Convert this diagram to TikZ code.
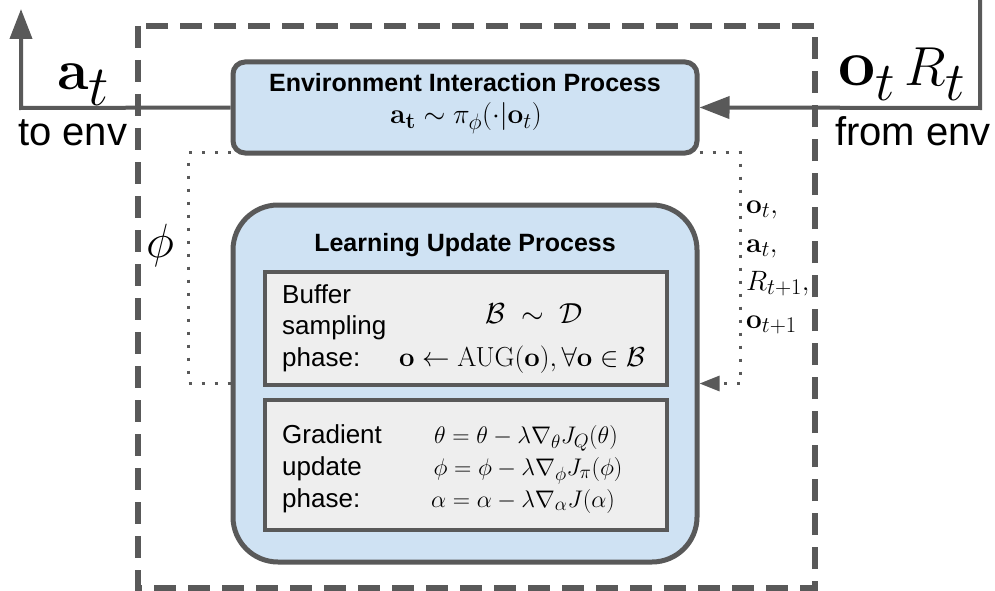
\RequirePackage{fix-cm}
\documentclass[tikz,border=0pt]{standalone}
\usepackage[no-math]{fontspec}
\setmainfont{Liberation Sans}
\renewcommand{\defaultscriptratio}{.8}
\usetikzlibrary{arrows.meta,calc}
\definecolor{lc}{HTML}{595959}
\definecolor{bluefill}{HTML}{CFE2F3}
\definecolor{grayfill}{HTML}{EEEEEE}
\newcommand{\fsz}[1]{\fontsize{#1}{#1}\selectfont}
\tikzset{
  conn/.style={draw=lc, line width=4pt},
  bigtip/.style={-{Triangle[length=30pt,width=22pt]}},
  dotline/.style={draw=lc, line width=3pt, dash pattern=on 3pt off 10pt},
  smalltip/.style={-{Triangle[length=20pt,width=15pt]}},
  procbox/.style={draw=lc, line width=5pt, fill=bluefill},
  phasebox/.style={draw=lc, line width=3.3pt, fill=grayfill, minimum width=402pt},
  outerbox/.style={draw=lc, line width=5.5pt, dash pattern=on 22pt off 12pt},
}
\begin{document}
\begin{tikzpicture}[x=1pt,y=-1pt]
\useasboundingbox (0,0) rectangle (995,591);
% outer dashed frame
\draw[outerbox] (138,26) rectangle (815,588);
% process boxes
\node[procbox, rounded corners=12pt, minimum width=464pt, minimum height=91pt] (env) at (465,107.5) {};
\node[procbox, rounded corners=45pt, minimum width=464pt, minimum height=357pt] (learn) at (465,383.5) {};
\node[phasebox, minimum height=113pt] (buf) at (466,328.5) {};
\node[phasebox, minimum height=130pt] (grad) at (466,465) {};
% texts in env box
\node[anchor=base, font=\bfseries\fsz{25}, inner sep=0, text depth=2pt] (envtitle) at (465,92) {Environment Interaction Process};
\node[anchor=base, font=\fsz{28}, inner sep=0, text height=19pt] (envform) at (466,124) {$\mathbf{a_t}\sim\pi_\phi(\cdot|\mathbf{o}_t)$};
% learning box texts
\node[anchor=base, font=\bfseries\fsz{25}, inner sep=0] (learntitle) at (465,251) {Learning Update Process};
\node[anchor=base west, inner sep=0, font=\fontsize{26}{31.5}\selectfont] (buftext) at (282,303)
  {\begin{tabular}[t]{@{}l@{}}Buffer\\sampling\\phase:\end{tabular}};
\node[anchor=base, inner sep=0, font=\fsz{29}] (bufform1) at (534,323) {$\mathcal{B}\;\sim\;\mathcal{D}$};
\node[anchor=base, inner sep=0, font=\fsz{27.5}] (bufform2) at (522,366) {$\mathbf{o}\leftarrow\mathrm{AUG}(\mathbf{o}),\forall\mathbf{o}\in\mathcal{B}$};
\node[anchor=base west, inner sep=0, font=\fontsize{26}{32}\selectfont] (gradtext) at (282,443)
  {\begin{tabular}[t]{@{}l@{}}Gradient\\update\\phase:\end{tabular}};
\node[anchor=base, inner sep=0, font=\fsz{24}] (gradform1) at (526,443) {$\theta=\theta-\lambda\nabla_\theta J_Q(\theta)$};
\node[anchor=base, inner sep=0, font=\fsz{24}] (gradform2) at (528,475) {$\phi=\phi-\lambda\nabla_\phi J_\pi(\phi)$};
\node[anchor=base, inner sep=0, font=\fsz{24}] (gradform3) at (523,507) {$\alpha=\alpha-\lambda\nabla_\alpha J(\alpha)$};
% action to environment
\coordinate (actcorner) at (21,108);
\coordinate (acttop) at (21,9);
\draw[conn, bigtip] (env.west) -- (actcorner) -- (acttop);
\node[anchor=base west, inner sep=0, font=\fsz{57}] (atlabel) at (57,90) {$\mathbf{a}_{\textstyle t}$};
\node[anchor=base west, inner sep=0, font=\fsz{40}] (toenv) at (18,146) {to env};
% observation from environment
\coordinate (obstop) at (980,-5);
\coordinate (obscorner) at (980,108);
\draw[conn, bigtip] (obstop) -- (obscorner) -- (env.east);
\node[anchor=base west, inner sep=0, font=\fsz{55}] (otlabel) at (838,86) {$\scalebox{1.2}{$\mathbf{o}$}_{\textstyle t}\,R_{\textstyle t}$};
\node[anchor=base west, inner sep=0, font=\fsz{40}] (fromenv) at (835,146) {from env};
% dotted loops
\draw[dotline] ([yshift=3pt]env.south west) -- ++(-42pt,0) |- (learn.west);
\draw[dotline, smalltip] ([yshift=3pt]env.south east) -- ++(41pt,0) |- (learn.east);
\node[font=\fsz{48}, inner sep=0] (philabel) at (160,245) {$\phi$};
\node[anchor=base west, inner sep=0, font=\fsz{28}] (l1) at (746,213) {$\mathbf{o}_t,$};
\node[anchor=base west, inner sep=0, font=\fsz{28}] (l2) at (746,252) {$\mathbf{a}_t,$};
\node[anchor=base west, inner sep=0, font=\fsz{28}] (l3) at (746,290) {$R_{t+1},$};
\node[anchor=base west, inner sep=0, font=\fsz{28}] (l4) at (746,328) {$\mathbf{o}_{t+1}$};
\end{tikzpicture}
\end{document}
